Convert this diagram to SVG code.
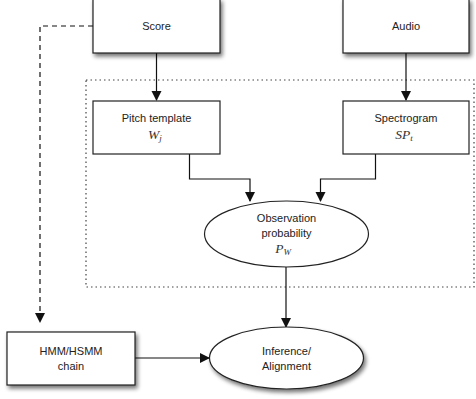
<svg xmlns="http://www.w3.org/2000/svg" width="476" height="399" viewBox="0 0 476 399">
<defs>
<filter id="sh" x="-20%" y="-20%" width="150%" height="160%">
<feGaussianBlur in="SourceAlpha" stdDeviation="2"/>
<feOffset dx="2" dy="3" result="b"/>
<feComponentTransfer><feFuncA type="linear" slope="0.55"/></feComponentTransfer>
<feMerge><feMergeNode/><feMergeNode in="SourceGraphic"/></feMerge>
</filter>
<marker id="ah" markerWidth="10" markerHeight="12" refX="9" refY="5" orient="auto" markerUnits="userSpaceOnUse">
<path d="M0,0 L10,5 L0,10 Z" fill="#111"/>
</marker>
</defs>
<style>
.box{fill:#fff;stroke:#222;stroke-width:1.2}
.t{font-family:"Liberation Sans",Arial,sans-serif;font-size:11px;fill:#222;text-anchor:middle}
.m{font-family:"Liberation Serif","Times New Roman",serif;font-style:italic;font-size:13.5px;fill:#333;text-anchor:middle}
.s{font-family:"Liberation Serif","Times New Roman",serif;font-style:italic;font-size:9px;fill:#333}
.c{fill:none;stroke:#111;stroke-width:1.2}
</style>
<rect x="86" y="80" width="388" height="207" fill="none" stroke="#444" stroke-width="1.2" stroke-dasharray="1.5,3"/>
<g id="connectors">
<path class="c" d="M93,26 H40 V322" stroke-dasharray="5,4" marker-end="url(#ah)"/>
<path class="c" d="M156.5,53 V100" marker-end="url(#ah)"/>
<path class="c" d="M406,53 V100" marker-end="url(#ah)"/>
<path class="c" d="M189.5,154 V179 H250 V201" marker-end="url(#ah)"/>
<path class="c" d="M375.5,154 V179 H320.5 V201" marker-end="url(#ah)"/>
<path class="c" d="M286,267 V327" marker-end="url(#ah)"/>
<path class="c" d="M135,358 V358 H209" marker-end="url(#ah)"/>
</g>
<g id="score">
<rect class="box" x="93" y="-1" width="127" height="54" filter="url(#sh)"/>
<text class="t" x="156.5" y="30">Score</text>
</g>
<g id="audio">
<rect class="box" x="343" y="-1" width="126" height="54" filter="url(#sh)"/>
<text class="t" x="406" y="30">Audio</text>
</g>
<g id="pitch">
<rect class="box" x="93" y="101" width="127" height="53"/>
<text class="t" x="156.5" y="122">Pitch template</text>
<text class="m" x="155" y="139">W<tspan class="s" dy="2">j</tspan></text>
</g>
<g id="spectrogram">
<rect class="box" x="343" y="101" width="126" height="53"/>
<text class="t" x="406" y="122">Spectrogram</text>
<text class="m" x="404" y="139">SP<tspan class="s" dy="2">t</tspan></text>
</g>
<g id="observation">
<ellipse class="box" cx="286.5" cy="234" rx="82" ry="33"/>
<text class="t" x="286.5" y="222">Observation</text>
<text class="t" x="286.5" y="237">probability</text>
<text class="m" x="283" y="253">P<tspan class="s" dy="2">W</tspan></text>
</g>
<g id="hmm">
<rect class="box" x="7" y="332" width="128" height="53" filter="url(#sh)"/>
<text class="t" x="71" y="355">HMM/HSMM</text>
<text class="t" x="71" y="370">chain</text>
</g>
<g id="inference">
<ellipse class="box" cx="286.5" cy="358" rx="77" ry="31" filter="url(#sh)"/>
<text class="t" x="286.5" y="355">Inference/</text>
<text class="t" x="286.5" y="370">Alignment</text>
</g>
</svg>
